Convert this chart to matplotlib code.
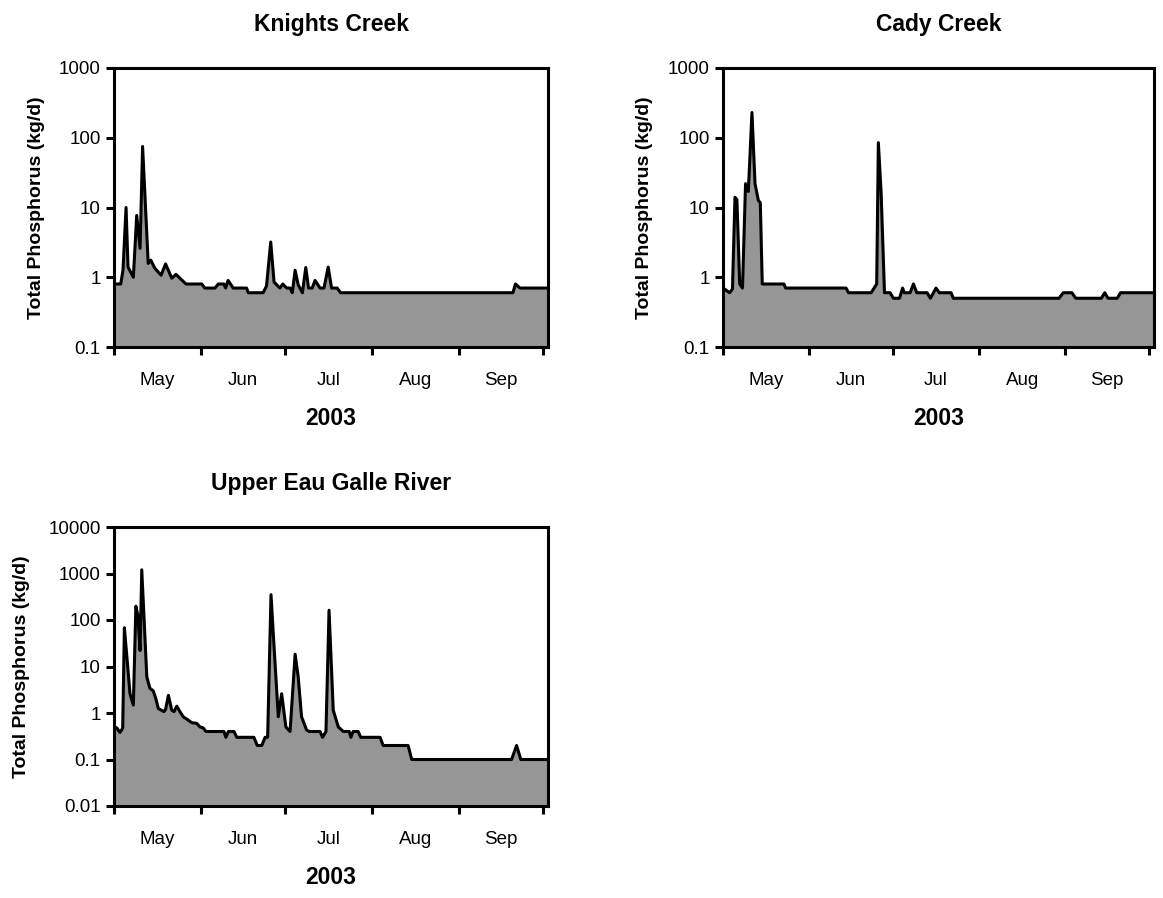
import numpy as np
import matplotlib
matplotlib.use("Agg")
import matplotlib.pyplot as plt
from matplotlib.ticker import FixedLocator, FuncFormatter, NullLocator

plt.rcParams["font.family"] = ["Liberation Sans", "DejaVu Sans"]

# days counted from 1 May 2003
month_starts = [0, 31, 61, 92, 123, 153]
month_mids = [15.5, 46, 76.5, 107.5, 138]
month_labels = ["May", "Jun", "Jul", "Aug", "Sep"]
x_end = 154.8

kc_day = [0, 2.4, 3.2, 4.3, 5, 6.9, 8.1, 9.3, 10.2, 12.2, 13.1, 14.6, 16.8, 18.4,
          20.6, 22.1, 23.5, 25.7, 31.3, 32.4, 36, 37.2, 39.2, 39.8, 40.7, 42.5,
          47.3, 47.9, 53.2, 54.4, 55.9, 57.1, 59.2, 60.2, 61.6, 62.8, 63.6, 64.6,
          65.7, 67.2, 68.4, 69.4, 70.7, 71.7, 73.5, 74.9, 76.4, 77.6, 79.6, 80.8,
          142.3, 143.2, 144.8, 154.8]
kc_tp = [0.8, 0.8, 1.26, 10, 1.4, 1.0, 7.7, 2.6, 75, 1.58, 1.76, 1.34, 1.07, 1.55,
         0.97, 1.1, 0.97, 0.8, 0.8, 0.7, 0.7, 0.8, 0.8, 0.7, 0.9, 0.7,
         0.7, 0.6, 0.6, 0.75, 3.2, 0.85, 0.7, 0.8, 0.7, 0.7, 0.6, 1.26,
         0.78, 0.6, 1.38, 0.7, 0.7, 0.9, 0.7, 0.7, 1.4, 0.7, 0.7, 0.6,
         0.6, 0.8, 0.7, 0.7]

cc_day = [0, 2.4, 3.4, 4.3, 5.0, 6.0, 7.0, 8.1, 9.1, 10.4, 11.5, 12.7, 13.4, 14.1,
          21.9, 22.5, 44.2, 45.1, 53.2, 55.2, 55.8, 56.8, 58, 60, 61.2, 63.4, 64.5,
          65.1, 67.2, 68.4, 69.6, 73.3, 74.5, 76.5, 77.7, 81.9, 82.7, 120.7, 122.2,
          125.3, 126.7, 135.9, 137.1, 138.3, 141.6, 142.8, 154.8]
cc_tp = [0.7, 0.6, 0.68, 14, 13, 0.8, 0.7, 22, 17, 230, 22, 12.6, 11.7, 0.8,
         0.8, 0.7, 0.7, 0.6, 0.6, 0.8, 85, 16, 0.6, 0.6, 0.5, 0.5, 0.7,
         0.6, 0.6, 0.8, 0.6, 0.6, 0.5, 0.7, 0.6, 0.6, 0.5, 0.5, 0.6,
         0.6, 0.5, 0.5, 0.6, 0.5, 0.5, 0.6, 0.6]

ue_day = [0, 1, 2.1, 3.1, 3.7, 4.5, 5.7, 6.9, 7.8, 8.5, 9.3, 9.9, 10.7, 11.7, 12.8,
          14, 14.9, 15.8, 17.8, 18.4, 19.4, 20.6, 21.4, 22.4, 23.5, 24.7, 26.1,
          27.7, 29.5, 30.7, 31.8, 32.8, 39.2, 39.9, 40.8, 42.8, 43.8, 49.9, 51.1,
          52.7, 53.9, 54.8, 56, 57.1, 58.6, 59.8, 61, 61.3, 62.8, 64.6, 65.7,
          66.9, 68.7, 69.7, 73.5, 74.4, 75.6, 76.7, 78.2, 80, 81.8, 83.9, 84.5,
          85.3, 87.1, 88, 94.9, 96, 104.9, 106.2, 141.8, 143.6, 145.1, 154.8]
ue_tp = [0.5, 0.48, 0.38, 0.47, 68, 19, 2.6, 1.48, 198, 126, 22, 1200, 117, 6, 3.4,
         3.0, 2.06, 1.25, 1.07, 1.2, 2.4, 1.15, 1.07, 1.4, 1.07, 0.83, 0.73,
         0.62, 0.6, 0.5, 0.48, 0.4, 0.4, 0.3, 0.4, 0.4, 0.3, 0.3, 0.2,
         0.2, 0.3, 0.3, 350, 26, 0.83, 2.6, 0.7, 0.5, 0.4, 18.4, 6,
         0.83, 0.43, 0.4, 0.4, 0.3, 0.4, 162, 1.15, 0.5, 0.4, 0.4, 0.3,
         0.4, 0.4, 0.3, 0.3, 0.2, 0.2, 0.1, 0.1, 0.2, 0.1, 0.1]

W, H = 1163, 898
fig = plt.figure(figsize=(W / 100, H / 100), dpi=100)


def panel(px_left, px_top, px_right, px_bottom, day, tp, title, ylim, ylab_pad):
    ax = fig.add_axes([px_left / W, 1 - px_bottom / H,
                       (px_right - px_left) / W, (px_bottom - px_top) / H])
    ax.fill_between(day, tp, ylim[0] / 10, color="#969696", lw=0)
    ax.plot(day, tp, color="black", lw=2.2, solid_joinstyle="round")
    ax.set_yscale("log")
    ax.set_ylim(*ylim)
    ax.set_xlim(0, x_end)
    decades = 10.0 ** np.arange(np.log10(ylim[0]), np.log10(ylim[1]) + 0.5)
    ax.yaxis.set_major_locator(FixedLocator(decades))
    ax.yaxis.set_minor_locator(NullLocator())
    ax.yaxis.set_major_formatter(FuncFormatter(lambda v, p: f"{v:g}"))
    ax.xaxis.set_major_locator(FixedLocator(month_starts))
    ax.xaxis.set_major_formatter(FuncFormatter(lambda v, p: ""))
    ax.xaxis.set_minor_locator(FixedLocator(month_mids))
    ax.xaxis.set_minor_formatter(FuncFormatter(lambda v, p: month_labels[p]))
    ax.tick_params(which="major", direction="out", length=6, width=2.2, labelsize=13.5)
    ax.tick_params(axis="x", which="minor", length=0, labelsize=13.5, pad=18)
    for s in ax.spines.values():
        s.set_linewidth(2.2)
    ax.set_title(title, fontsize=16.5, fontweight="bold", pad=27)
    ax.set_xlabel("2003", fontsize=16.5, fontweight="bold", labelpad=13)
    ax.set_ylabel("Total Phosphorus (kg/d)", fontsize=14, fontweight="bold",
                  labelpad=ylab_pad)
    return ax


panel(114, 68, 548, 347, kc_day, kc_tp, "Knights Creek", (0.1, 1000), 10)
panel(723, 68, 1154, 347, cc_day, cc_tp, "Cady Creek", (0.1, 1000), 11)
panel(114, 527, 548, 806, ue_day, ue_tp, "Upper Eau Galle River", (0.01, 10000), 13)

fig.savefig("out.png", dpi=100)
